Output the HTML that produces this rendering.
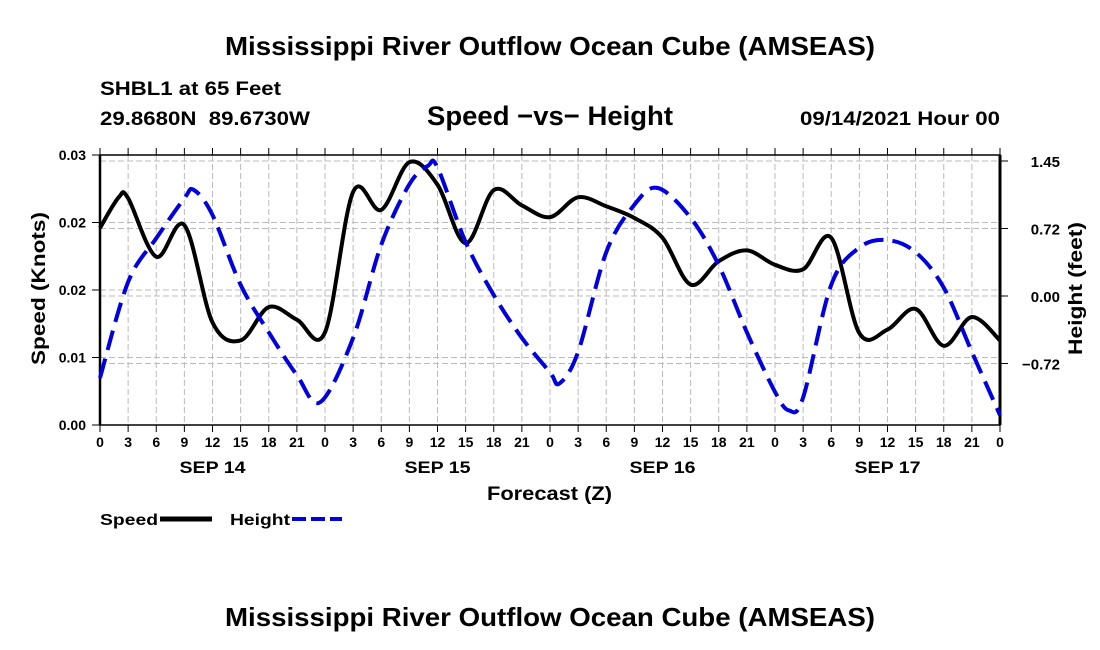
<!DOCTYPE html>
<html><head><meta charset="utf-8"><style>
body{margin:0;background:#fff;}
svg{display:block;font-family:"Liberation Sans",sans-serif;font-weight:bold;}
</style></head><body>
<svg id="chart" width="1100" height="650" viewBox="0 0 1100 650">
<text x="225" y="55" font-size="26" textLength="650" lengthAdjust="spacingAndGlyphs">Mississippi River Outflow Ocean Cube (AMSEAS)</text>
<text x="100" y="95" font-size="19" textLength="181" lengthAdjust="spacingAndGlyphs">SHBL1 at 65 Feet</text>
<text x="100" y="125" font-size="19" xml:space="preserve" textLength="210" lengthAdjust="spacingAndGlyphs">29.8680N  89.6730W</text>
<text x="427" y="125" font-size="27" textLength="246" lengthAdjust="spacingAndGlyphs">Speed −vs− Height</text>
<text x="800" y="125" font-size="19" textLength="200" lengthAdjust="spacingAndGlyphs">09/14/2021 Hour 00</text>
<g id="grid"></g><g id="axes"></g><g id="series"></g>
<text transform="translate(45,365) rotate(-90)" font-size="19" textLength="153" lengthAdjust="spacingAndGlyphs">Speed (Knots)</text>
<text transform="translate(1082,355) rotate(-90)" font-size="19" textLength="133" lengthAdjust="spacingAndGlyphs">Height (feet)</text>
<text x="487" y="500" font-size="19" textLength="125" lengthAdjust="spacingAndGlyphs">Forecast (Z)</text>
<g>
<text x="100" y="525" font-size="16" textLength="58" lengthAdjust="spacingAndGlyphs">Speed</text>
<line x1="160" y1="519" x2="212" y2="519" stroke="#000" stroke-width="5"/>
<text x="230" y="525" font-size="16" textLength="60" lengthAdjust="spacingAndGlyphs">Height</text>
<line x1="292" y1="519" x2="342" y2="519" stroke="#0000e0" stroke-width="4" stroke-dasharray="14,5"/>
</g>
<text x="225" y="626" font-size="26" textLength="650" lengthAdjust="spacingAndGlyphs">Mississippi River Outflow Ocean Cube (AMSEAS)</text>
</svg>
<script>
const speedHours=[0,2,3,6,9,12,15,18,21,24,27,30,33,36,39,42,45,48,51,54,57,60,63,66,69,72,75,78,81,84,87,90,93,96];
const speedValues=[0.0219,0.0253,0.0252,0.0187,0.0222,0.0114,0.0094,0.0131,0.0117,0.0103,0.0259,0.0239,0.0292,0.0267,0.0202,0.0261,0.0244,0.0231,0.0253,0.0243,0.0230,0.0208,0.0156,0.0182,0.0194,0.0178,0.0173,0.0208,0.0102,0.0106,0.0129,0.0088,0.0120,0.0094];
const heightHours=[0,3,6,9,10,12,15,18,21,23.5,27,30,33,35,36,39,42,45,48,49,51,54,57,59.5,63,66,69,72,73.5,75,78,81,84,87,90,93,96];
const heightValues=[-0.88,0.15,0.62,1.05,1.14,0.87,0.12,-0.39,-0.85,-1.14,-0.45,0.55,1.20,1.40,1.38,0.58,0.01,-0.45,-0.82,-0.94,-0.60,0.47,0.98,1.16,0.84,0.33,-0.39,-1.03,-1.23,-1.09,0.12,0.52,0.60,0.47,0.09,-0.60,-1.28];
const xTickLabels=["0","3","6","9","12","15","18","21"];
const dayLabels=["SEP 14","SEP 15","SEP 16","SEP 17"];
const yTickLabels=["0.00","0.01","0.02","0.02","0.03"];
const y2TickValues=[1.45,0.725,0,-0.725];
const y2TickLabels=["1.45","0.72","0.00","\u22120.72"];
const NS="http://www.w3.org/2000/svg";
const X0=100,X1=1000,YT=155,YB=425;
const xs=h=>X0+h*(X1-X0)/96;
const ys=v=>YB-v*(YB-YT)/0.03;
const yh=v=>296-v*93.1;
function mk(tag,attrs,parent){const e=document.createElementNS(NS,tag);for(const k in attrs)e.setAttribute(k,attrs[k]);parent.appendChild(e);return e;}
const grid=document.getElementById('grid'),axes=document.getElementById('axes'),series=document.getElementById('series');
for(let h=3;h<96;h+=3){const l=mk('line',{x1:xs(h),x2:xs(h),y1:YT,y2:YB,stroke:'#bbb','stroke-dasharray':'6,3'},grid);

}
for(let i=1;i<4;i++){const l=mk('line',{x1:X0,x2:X1,y1:ys(i*0.0075),y2:ys(i*0.0075),stroke:'#bbb','stroke-dasharray':'6,3'},grid);

}
y2TickValues.forEach(v=>{const l=mk('line',{x1:X0,x2:X1,y1:yh(v),y2:yh(v),stroke:'#bbb','stroke-dasharray':'6,3'},grid);

});
const fr=mk('rect',{x:X0,y:YT,width:X1-X0,height:YB-YT,fill:'none',stroke:'#000','stroke-width':1.5},axes);


mk('line',{x1:X0,x2:X0,y1:YT,y2:YB,stroke:'#000','stroke-width':2.5},axes);
mk('line',{x1:X1,x2:X1,y1:YT,y2:YB,stroke:'#000','stroke-width':3},axes);
for(let h=0;h<=96;h+=3){const x=xs(h);
mk('line',{x1:x,x2:x,y1:YB,y2:YB+7,stroke:'#000'},axes);
mk('line',{x1:x,x2:x,y1:YT,y2:YT-7,stroke:'#000'},axes);
const t=mk('text',{x:x,y:YB+22,'font-size':14,'text-anchor':'middle'},axes);t.textContent=xTickLabels[(h/3)%8];

}
dayLabels.forEach((d,i)=>{const t=mk('text',{x:xs(12+24*i)-33,y:YB+48,'font-size':17,textLength:66,lengthAdjust:'spacingAndGlyphs'},axes);t.textContent=d;

});
yTickLabels.forEach((s,i)=>{const y=ys(i*0.0075);
mk('line',{x1:X0-8,x2:X0,y1:y,y2:y,stroke:'#000'},axes);
const t=mk('text',{x:X0-14,y:y+5,'font-size':14,'text-anchor':'end'},axes);t.textContent=s;

});
y2TickValues.forEach((v,i)=>{const y=yh(v);
mk('line',{x1:X1,x2:X1+8,y1:y,y2:y,stroke:'#000'},axes);
const t=mk('text',{x:1060,y:y+6,'font-size':15,'text-anchor':'end'},axes);t.textContent=y2TickLabels[i];

});
function smooth(pts){let d=`M${pts[0][0]},${pts[0][1]}`;
for(let i=0;i<pts.length-1;i++){const p0=pts[Math.max(0,i-1)],p1=pts[i],p2=pts[i+1],p3=pts[Math.min(pts.length-1,i+2)];
const c1=[p1[0]+(p2[0]-p0[0])/6,p1[1]+(p2[1]-p0[1])/6],c2=[p2[0]-(p3[0]-p1[0])/6,p2[1]-(p3[1]-p1[1])/6];
d+=` C${c1[0]},${c1[1]} ${c2[0]},${c2[1]} ${p2[0]},${p2[1]}`;}return d;}
const sp=mk('path',{d:smooth(speedHours.map((h,i)=>[xs(h),ys(speedValues[i])])),fill:'none',stroke:'#000','stroke-width':4,'stroke-linejoin':'round'},series);


const hp=mk('path',{d:smooth(heightHours.map((h,i)=>[xs(h),yh(heightValues[i])])),fill:'none',stroke:'#0000e0','stroke-width':4,'stroke-dasharray':'20,9'},series);


</script>
</body></html>
